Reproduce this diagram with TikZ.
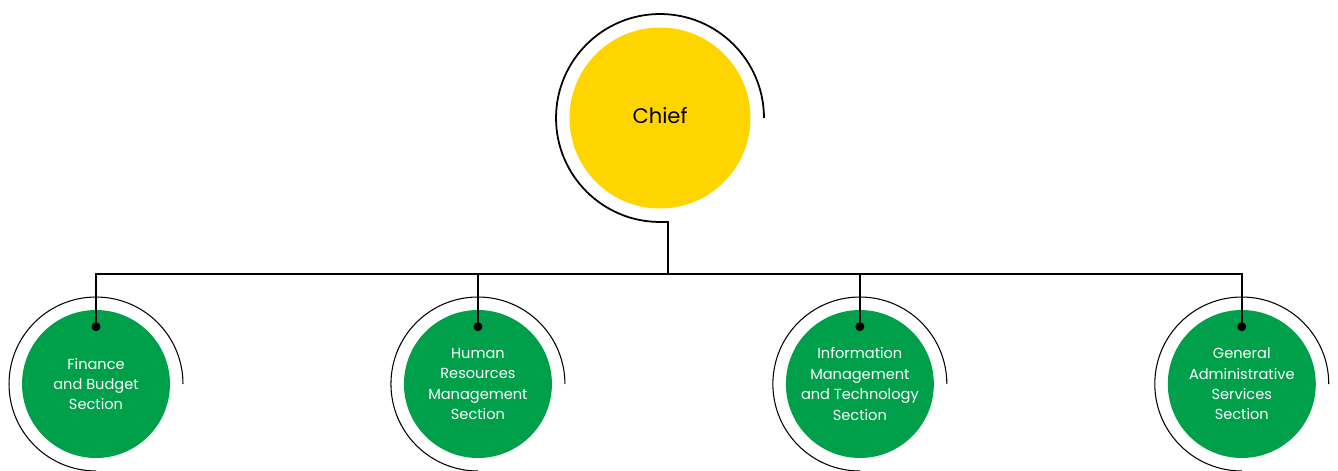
\documentclass[tikz,border=0pt]{standalone}
\usepackage{fontspec}
\setmainfont{Poppins}
\usetikzlibrary{positioning}
\definecolor{chiefyellow}{RGB}{255,213,0}
\definecolor{sectiongreen}{RGB}{0,160,75}
\tikzset{
    chief/.style={
           circle,
           fill=chiefyellow,
           minimum size=3.62cm,
           inner sep=0pt,
           font=\fontsize{12}{14}\selectfont,
           },
    section/.style={
           circle,
           fill=sectiongreen,
           text=white,
           minimum size=2.96cm,
           inner sep=0pt,
           align=center,
           font=\fontsize{8.3}{11.6}\selectfont,
           },
    ring/.style={draw=black, line width=0.6pt},
    wire/.style={draw=black, line width=1pt},
    pindot/.style={circle, fill=black, minimum size=0.18cm, inner sep=0pt},
}
\begin{document}
\begin{tikzpicture}[x=0.02cm,y=0.02cm]
    \useasboundingbox (0,0) rectangle (1338,470);

    \node[chief] (C) at (660,352) {\raisebox{2.5pt}{Chief}};

    \node[section] (F) at (96,86) {Finance\\and Budget\\Section};
    \node[section,right of=F,node distance=7.64cm]
        (H) {Human\\Resources\\Management\\Section};
    \node[section,right of=H,node distance=7.64cm]
        (I) {Information\\Management\\and Technology\\Section};
    \node[section,right of=I,node distance=7.64cm]
        (G) {General\\Administrative\\Services\\Section};

    % open rings round the circles
    \draw[wire] ([xshift=2.08cm]C.center) arc[start angle=0,end angle=270,radius=2.08cm]
        -| (668,196) coordinate (bus);
    \draw[ring] ([xshift=1.74cm]F.center) arc[start angle=0,end angle=270,radius=1.74cm];
    \draw[ring] ([xshift=1.74cm]H.center) arc[start angle=0,end angle=270,radius=1.74cm];
    \draw[ring] ([xshift=1.74cm]I.center) arc[start angle=0,end angle=270,radius=1.74cm];
    \draw[ring] ([xshift=1.74cm]G.center) arc[start angle=0,end angle=270,radius=1.74cm];

    \node[pindot,above=1.05cm of F.center] (Fd) {};
    \node[pindot,above=1.05cm of H.center] (Hd) {};
    \node[pindot,above=1.05cm of I.center] (Id) {};
    \node[pindot,above=1.05cm of G.center] (Gd) {};

    \draw[wire] (Fd.center) |- (Gd |- bus) -- (Gd.center);
    \draw[wire] (Hd.center) -- (Hd |- bus);
    \draw[wire] (Id.center) -- (Id |- bus);

\end{tikzpicture}
\end{document}
